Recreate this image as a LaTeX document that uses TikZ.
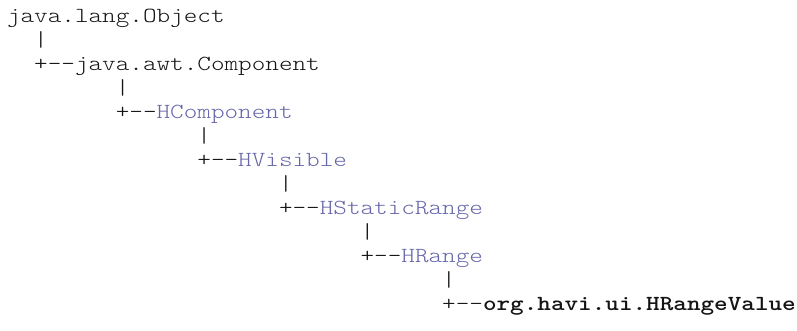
\documentclass[tikz,border=0pt]{standalone}
\usepackage{fontspec}
\setmonofont{lmmonolt10-regular.otf}[BoldFont=lmmonolt10-bold.otf,FakeStretch=1.205]
\definecolor{linkc}{RGB}{102,102,170}
\definecolor{txt}{RGB}{20,20,20}
\begin{document}
\begin{tikzpicture}[x=1pt,y=1pt,
  ln/.style={anchor=base west,inner sep=0pt,outer sep=0pt,text=txt,
    font=\fontsize{21.5}{24}\selectfont\ttfamily}]
\useasboundingbox (0,0) rectangle (797,331);
\def\cw{13.6}
\def\xo{7}
\def\lh{24}
\def\ytop{308}
\node[ln] (n0)  at (\xo+0*\cw, \ytop-0*\lh) {java.lang.Object};
\node[ln] (n1)  at (\xo+2*\cw, \ytop-1*\lh) {|};
\node[ln] (n2)  at (\xo+2*\cw, \ytop-2*\lh) {+--java.awt.Component};
\node[ln] (n3)  at (\xo+8*\cw, \ytop-3*\lh) {|};
\node[ln] (n4)  at (\xo+8*\cw, \ytop-4*\lh) {+--\textcolor{linkc}{HComponent}};
\node[ln] (n5)  at (\xo+14*\cw, \ytop-5*\lh) {|};
\node[ln] (n6)  at (\xo+14*\cw, \ytop-6*\lh) {+--\textcolor{linkc}{HVisible}};
\node[ln] (n7)  at (\xo+20*\cw, \ytop-7*\lh) {|};
\node[ln] (n8)  at (\xo+20*\cw, \ytop-8*\lh) {+--\textcolor{linkc}{HStaticRange}};
\node[ln] (n9)  at (\xo+26*\cw, \ytop-9*\lh) {|};
\node[ln] (n10) at (\xo+26*\cw, \ytop-10*\lh) {+--\textcolor{linkc}{HRange}};
\node[ln] (n11) at (\xo+32*\cw, \ytop-11*\lh) {|};
\node[ln] (n12) at (\xo+32*\cw, \ytop-12*\lh) {+--\textbf{org.havi.ui.HRangeValue}};
\end{tikzpicture}
\end{document}
